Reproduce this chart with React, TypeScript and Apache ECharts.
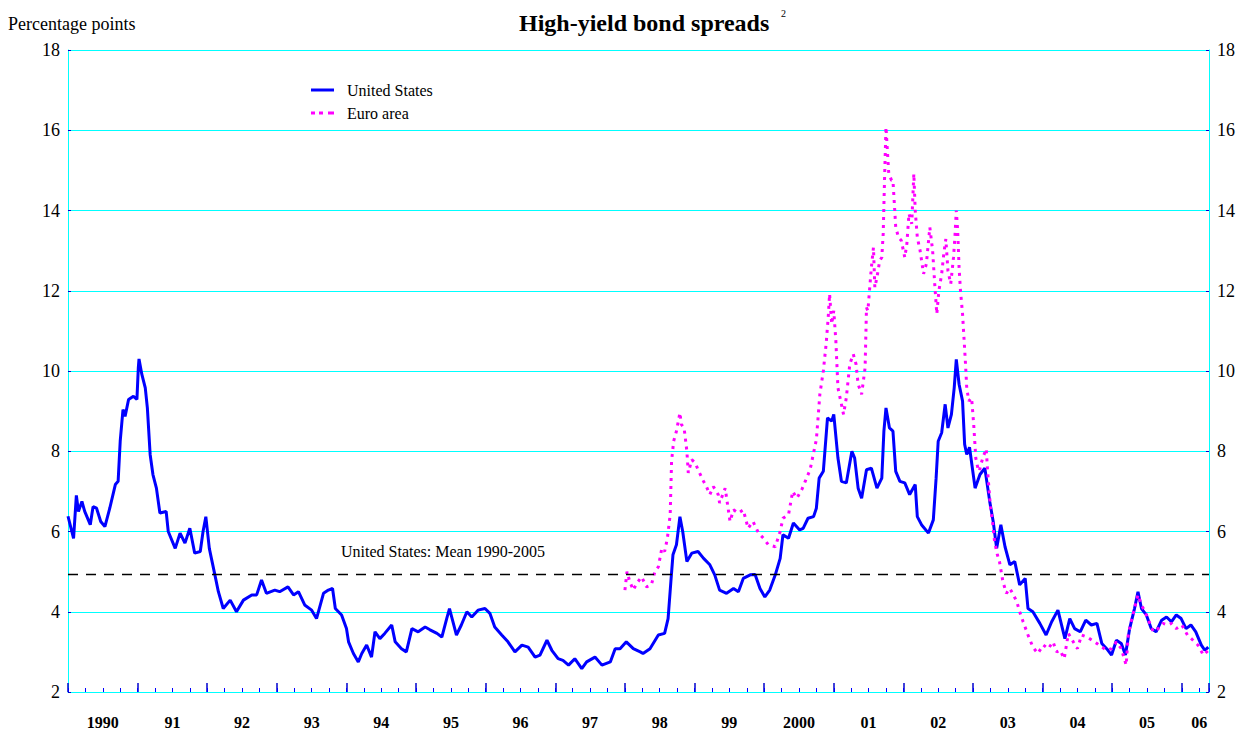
import React, { useEffect, useRef } from "react";
import * as echarts from "echarts";

const FONT = '"Liberation Serif", "Times New Roman", serif';

const X_MIN = 1990;
const X_MAX = 2006.39;
const Y_MIN = 2;
const Y_MAX = 18;
const Y_STEP = 2;
const US_MEAN = 4.93;

const titleText = "High-yield bond spreads";
const footnoteMark = "2";
const unitText = "Percentage points";
const meanLabel = "United States: Mean 1990-2005";
const seriesNames = ["United States", "Euro area"];

const usData: [number, number][] = [
  [1990.0, 6.38], [1990.08, 5.83], [1990.12, 6.9], [1990.15, 6.5], [1990.2, 6.75],
  [1990.24, 6.5], [1990.32, 6.17], [1990.36, 6.62], [1990.41, 6.58], [1990.47, 6.25],
  [1990.53, 6.12], [1990.6, 6.58], [1990.68, 7.17], [1990.72, 7.25], [1990.75, 8.25],
  [1990.79, 9.04], [1990.82, 8.87], [1990.87, 9.29], [1990.94, 9.37], [1990.99, 9.29],
  [1991.01, 10.08], [1991.02, 10.3], [1991.06, 9.92], [1991.11, 9.58], [1991.14, 9.08],
  [1991.18, 7.92], [1991.22, 7.42], [1991.27, 7.08], [1991.32, 6.46], [1991.41, 6.5],
  [1991.44, 6.0], [1991.54, 5.58], [1991.61, 5.96], [1991.68, 5.71], [1991.75, 6.08],
  [1991.82, 5.46], [1991.9, 5.5], [1991.94, 6.0], [1991.98, 6.37], [1992.03, 5.58],
  [1992.06, 5.33], [1992.11, 4.92], [1992.16, 4.5], [1992.23, 4.08], [1992.33, 4.29],
  [1992.42, 4.0], [1992.52, 4.29], [1992.64, 4.42], [1992.71, 4.42], [1992.78, 4.79],
  [1992.85, 4.46], [1992.97, 4.54], [1993.04, 4.5], [1993.16, 4.62], [1993.24, 4.42],
  [1993.31, 4.5], [1993.4, 4.17], [1993.5, 4.04], [1993.57, 3.83], [1993.67, 4.46],
  [1993.74, 4.54], [1993.8, 4.58], [1993.84, 4.08], [1993.93, 3.92], [1994.0, 3.58],
  [1994.03, 3.25], [1994.1, 2.96], [1994.17, 2.75], [1994.22, 2.96], [1994.29, 3.17],
  [1994.36, 2.87], [1994.41, 3.5], [1994.48, 3.33], [1994.55, 3.46], [1994.65, 3.67],
  [1994.7, 3.25], [1994.79, 3.08], [1994.86, 3.0], [1994.94, 3.58], [1995.03, 3.5],
  [1995.13, 3.62], [1995.2, 3.55], [1995.3, 3.46], [1995.37, 3.37], [1995.44, 3.83],
  [1995.48, 4.08], [1995.53, 3.75], [1995.58, 3.42], [1995.65, 3.67], [1995.73, 4.0],
  [1995.8, 3.87], [1995.89, 4.04], [1995.99, 4.08], [1996.06, 3.96], [1996.13, 3.62],
  [1996.23, 3.42], [1996.32, 3.25], [1996.42, 3.0], [1996.52, 3.17], [1996.61, 3.12],
  [1996.71, 2.87], [1996.78, 2.92], [1996.88, 3.29], [1996.95, 3.04], [1997.04, 2.83],
  [1997.11, 2.79], [1997.19, 2.67], [1997.28, 2.83], [1997.38, 2.58], [1997.45, 2.75],
  [1997.57, 2.87], [1997.67, 2.67], [1997.79, 2.75], [1997.86, 3.08], [1997.93, 3.08],
  [1998.02, 3.25], [1998.12, 3.08], [1998.22, 3.0], [1998.26, 2.96], [1998.36, 3.08],
  [1998.48, 3.42], [1998.57, 3.46], [1998.62, 3.83], [1998.66, 4.75], [1998.69, 5.42],
  [1998.74, 5.67], [1998.79, 6.37], [1998.83, 6.0], [1998.89, 5.25], [1998.96, 5.46],
  [1999.05, 5.5], [1999.13, 5.33], [1999.22, 5.17], [1999.29, 4.92], [1999.36, 4.54],
  [1999.46, 4.46], [1999.56, 4.58], [1999.63, 4.5], [1999.7, 4.83], [1999.8, 4.92],
  [1999.87, 4.93], [1999.94, 4.58], [2000.01, 4.37], [2000.08, 4.54], [2000.16, 4.92],
  [2000.23, 5.33], [2000.27, 5.92], [2000.35, 5.83], [2000.42, 6.21], [2000.51, 6.04],
  [2000.56, 6.08], [2000.63, 6.33], [2000.71, 6.37], [2000.75, 6.58], [2000.79, 7.33],
  [2000.85, 7.5], [2000.91, 8.83], [2000.97, 8.75], [2001.0, 8.92], [2001.06, 7.83],
  [2001.11, 7.25], [2001.18, 7.21], [2001.26, 8.0], [2001.3, 7.83], [2001.35, 7.08],
  [2001.4, 6.83], [2001.47, 7.54], [2001.54, 7.58], [2001.62, 7.08], [2001.69, 7.33],
  [2001.72, 8.5], [2001.75, 9.08], [2001.8, 8.58], [2001.85, 8.5], [2001.89, 7.5],
  [2001.95, 7.25], [2002.02, 7.21], [2002.09, 6.92], [2002.17, 7.17], [2002.2, 6.37],
  [2002.26, 6.17], [2002.36, 5.96], [2002.43, 6.29], [2002.47, 7.33], [2002.5, 8.25],
  [2002.55, 8.46], [2002.6, 9.17], [2002.64, 8.58], [2002.69, 8.92], [2002.73, 9.58],
  [2002.76, 10.29], [2002.8, 9.67], [2002.85, 9.25], [2002.88, 8.17], [2002.91, 7.92],
  [2002.95, 8.1], [2003.03, 7.08], [2003.1, 7.42], [2003.17, 7.58], [2003.24, 6.75],
  [2003.29, 6.25], [2003.34, 5.58], [2003.4, 6.17], [2003.46, 5.62], [2003.53, 5.17],
  [2003.6, 5.25], [2003.67, 4.67], [2003.75, 4.83], [2003.79, 4.08], [2003.86, 4.0],
  [2003.96, 3.71], [2004.05, 3.42], [2004.13, 3.75], [2004.22, 4.04], [2004.32, 3.33],
  [2004.39, 3.83], [2004.46, 3.58], [2004.54, 3.5], [2004.62, 3.79], [2004.7, 3.67],
  [2004.78, 3.71], [2004.85, 3.21], [2004.92, 3.08], [2004.99, 2.92], [2005.06, 3.29],
  [2005.13, 3.21], [2005.19, 2.92], [2005.25, 3.58], [2005.32, 4.08], [2005.37, 4.5],
  [2005.42, 4.08], [2005.49, 3.92], [2005.56, 3.58], [2005.63, 3.5], [2005.71, 3.79],
  [2005.78, 3.87], [2005.85, 3.75], [2005.92, 3.92], [2005.99, 3.83], [2006.06, 3.58],
  [2006.13, 3.67], [2006.2, 3.5], [2006.28, 3.17], [2006.33, 3.04], [2006.38, 3.12],
];

const euroData: [number, number][] = [
  [1998.0, 4.54], [1998.03, 5.0], [1998.07, 4.75], [1998.12, 4.54], [1998.17, 4.71],
  [1998.24, 4.87], [1998.31, 4.62], [1998.38, 4.67], [1998.43, 5.0], [1998.48, 5.12],
  [1998.53, 5.58], [1998.57, 5.5], [1998.61, 5.83], [1998.65, 6.42], [1998.67, 7.75],
  [1998.7, 8.25], [1998.74, 8.5], [1998.79, 8.96], [1998.81, 8.67], [1998.85, 8.58],
  [1998.89, 8.0], [1998.91, 7.46], [1998.96, 7.79], [1999.01, 7.71], [1999.05, 7.54],
  [1999.13, 7.25], [1999.17, 7.12], [1999.22, 6.92], [1999.27, 7.12], [1999.34, 6.92],
  [1999.36, 6.71], [1999.44, 7.08], [1999.51, 6.25], [1999.56, 6.54], [1999.63, 6.46],
  [1999.7, 6.54], [1999.77, 6.08], [1999.84, 6.25], [1999.92, 5.96], [1999.99, 5.83],
  [2000.06, 5.67], [2000.16, 5.62], [2000.23, 6.0], [2000.27, 6.33], [2000.35, 6.42],
  [2000.41, 7.0], [2000.47, 6.83], [2000.54, 7.04], [2000.59, 7.25], [2000.66, 7.54],
  [2000.71, 7.96], [2000.75, 8.29], [2000.78, 8.96], [2000.8, 9.42], [2000.85, 10.0],
  [2000.89, 10.67], [2000.92, 11.33], [2000.94, 11.92], [2000.97, 11.17], [2001.0, 11.5],
  [2001.03, 10.75], [2001.06, 9.58], [2001.11, 9.17], [2001.14, 8.92], [2001.18, 9.33],
  [2001.23, 10.17], [2001.28, 10.42], [2001.32, 10.17], [2001.35, 9.67], [2001.4, 9.42],
  [2001.45, 10.08], [2001.47, 11.58], [2001.49, 11.5], [2001.54, 12.58], [2001.57, 13.08],
  [2001.59, 12.08], [2001.62, 12.33], [2001.66, 12.75], [2001.69, 12.83], [2001.71, 13.42],
  [2001.73, 14.83], [2001.75, 16.08], [2001.77, 15.5], [2001.79, 14.92], [2001.83, 14.75],
  [2001.85, 14.75], [2001.87, 14.17], [2001.89, 13.58], [2001.93, 13.33], [2001.97, 13.25],
  [2002.02, 12.83], [2002.05, 13.17], [2002.08, 13.92], [2002.12, 13.67], [2002.15, 14.92],
  [2002.17, 14.0], [2002.2, 13.33], [2002.24, 13.0], [2002.29, 12.42], [2002.33, 12.67],
  [2002.38, 13.58], [2002.42, 13.0], [2002.45, 12.17], [2002.48, 11.42], [2002.51, 12.0],
  [2002.55, 12.42], [2002.58, 12.92], [2002.61, 13.29], [2002.64, 12.5], [2002.68, 12.17],
  [2002.72, 12.83], [2002.74, 13.33], [2002.76, 14.0], [2002.78, 13.5], [2002.8, 12.58],
  [2002.82, 12.0], [2002.85, 11.42], [2002.87, 10.83], [2002.89, 10.25], [2002.91, 9.58],
  [2002.94, 9.25], [2002.98, 9.33], [2003.01, 8.67], [2003.04, 7.83], [2003.07, 7.58],
  [2003.09, 7.5], [2003.12, 7.71], [2003.14, 7.83], [2003.19, 8.06], [2003.21, 7.5],
  [2003.25, 6.62], [2003.28, 6.25], [2003.31, 5.75], [2003.35, 5.42], [2003.38, 5.25],
  [2003.43, 4.75], [2003.48, 4.46], [2003.53, 4.58], [2003.58, 4.42], [2003.63, 4.25],
  [2003.67, 4.0], [2003.72, 3.75], [2003.79, 3.42], [2003.86, 3.12], [2003.93, 2.96],
  [2004.01, 3.17], [2004.08, 3.08], [2004.15, 3.25], [2004.2, 3.0], [2004.25, 3.04],
  [2004.31, 2.83], [2004.37, 3.46], [2004.44, 3.25], [2004.5, 3.08], [2004.56, 3.42],
  [2004.64, 3.37], [2004.71, 3.29], [2004.78, 3.21], [2004.85, 3.12], [2004.92, 3.04],
  [2004.99, 3.08], [2005.06, 3.25], [2005.13, 3.08], [2005.2, 2.67], [2005.23, 3.42],
  [2005.27, 3.75], [2005.32, 4.08], [2005.37, 4.42], [2005.42, 4.17], [2005.47, 4.0],
  [2005.53, 3.75], [2005.59, 3.5], [2005.66, 3.58], [2005.73, 3.71], [2005.8, 3.67],
  [2005.85, 3.71], [2005.92, 3.58], [2006.0, 3.67], [2006.08, 3.42], [2006.16, 3.29],
  [2006.23, 3.17], [2006.31, 2.92], [2006.38, 3.04],
];

// label positions on the year axis: mid-year, plus the partial last year
const LAST_LABEL_POS = 2006.25;

function yearLabel(v: number): string {
  const frac = Math.round((v - Math.floor(v)) * 1000);
  let year: number | null = null;
  if (frac === 500) year = Math.floor(v);
  else if (Math.abs(v - LAST_LABEL_POS) < 1e-6) year = 2006;
  if (year === null) return "";
  if (year === 1990 || year === 2000) return String(year);
  return String(year % 100).padStart(2, "0");
}

const US_COLOR = "#0000FF";
const EURO_COLOR = "#FF00FF";
const DOTTED_ICON = "path://M0,0h4v3h-4z M8,0h4v3h-4z M17,0h6v3h-6z";

export default function App() {
  const ref = useRef<HTMLDivElement>(null);

  useEffect(() => {
    if (!ref.current) return;
    const chart = echarts.init(ref.current, null, { renderer: "svg" });
    const axisCommon = {
      type: "value" as const,
      min: X_MIN,
      max: X_MAX,
      splitLine: { show: false },
    };
    chart.setOption({
      animation: false,
      backgroundColor: "#ffffff",
      title: [
        {
          text: titleText,
          left: 519,
          top: 11,
          padding: 0,
          textStyle: { fontFamily: FONT, fontSize: 24, fontWeight: "bold", color: "#000" },
        },
        {
          text: footnoteMark,
          left: 781,
          top: 8,
          padding: 0,
          textStyle: { fontFamily: FONT, fontSize: 10, fontWeight: "normal", color: "#000" },
        },
        {
          text: unitText,
          left: 8,
          top: 15,
          padding: 0,
          textStyle: { fontFamily: FONT, fontSize: 18, fontWeight: "normal", color: "#000" },
        },
      ],
      legend: {
        data: [
          { name: seriesNames[0], icon: "rect", itemStyle: { color: US_COLOR } },
          { name: seriesNames[1], icon: DOTTED_ICON, itemStyle: { color: EURO_COLOR } },
        ],
        orient: "vertical",
        left: 311,
        top: 82,
        padding: 0,
        itemWidth: 23,
        itemHeight: 3,
        itemGap: 7,
        symbolKeepAspect: false,
        textStyle: { fontFamily: FONT, fontSize: 16, color: "#000", padding: [0, 0, 0, 8] },
      },
      grid: { left: 68, top: 50, width: 1141, height: 642, containLabel: false },
      xAxis: [
        {
          ...axisCommon,
          interval: 1,
          axisLine: { show: true, lineStyle: { color: "#00FFFF", width: 1 } },
          axisTick: { show: true, inside: true, length: 9, lineStyle: { color: "#0000CC", width: 1.5 } },
          axisLabel: { show: false },
        },
        {
          ...axisCommon,
          interval: 0.25,
          position: "bottom",
          axisLine: { show: false },
          axisTick: { show: true, inside: true, length: 4, lineStyle: { color: "#0000FF", width: 1 } },
          axisLabel: {
            show: true,
            formatter: (v: number) => yearLabel(v),
            fontFamily: FONT,
            fontSize: 16,
            fontWeight: "bold",
            color: "#000",
            margin: 22,
          },
        },
      ],
      yAxis: [
        {
          type: "value",
          min: Y_MIN,
          max: Y_MAX,
          interval: Y_STEP,
          position: "left",
          axisLine: { show: true, lineStyle: { color: "#00FFFF", width: 1 } },
          axisTick: { show: true, inside: true, length: 3, lineStyle: { color: "#0000CC" } },
          axisLabel: { fontFamily: FONT, fontSize: 18, color: "#000", margin: 8 },
          splitLine: { show: true, lineStyle: { color: "#00FFFF", width: 1 } },
        },
        {
          type: "value",
          min: Y_MIN,
          max: Y_MAX,
          interval: Y_STEP,
          position: "right",
          axisLine: { show: true, lineStyle: { color: "#00FFFF", width: 1 } },
          axisTick: { show: true, inside: true, length: 3, lineStyle: { color: "#0000CC" } },
          axisLabel: { fontFamily: FONT, fontSize: 18, color: "#000", margin: 8 },
          splitLine: { show: false },
        },
      ],
      series: [
        {
          name: seriesNames[0],
          type: "line",
          xAxisIndex: 0,
          yAxisIndex: 0,
          data: usData,
          symbol: "none",
          showSymbol: false,
          lineStyle: { color: US_COLOR, width: 3 },
          itemStyle: { color: US_COLOR },
          markLine: {
            silent: true,
            symbol: "none",
            lineStyle: { color: "#000", width: 1.3, type: [10, 8] },
            label: {
              show: true,
              position: "insideStartTop",
              formatter: meanLabel,
              fontFamily: FONT,
              fontSize: 16,
              color: "#000",
              padding: [0, 0, 0, 258],
              distance: 15,
            },
            data: [{ yAxis: US_MEAN }],
          },
        },
        {
          name: seriesNames[1],
          type: "line",
          xAxisIndex: 0,
          yAxisIndex: 0,
          data: euroData,
          symbol: "none",
          showSymbol: false,
          lineStyle: { color: EURO_COLOR, width: 3, type: [3, 5] },
          itemStyle: { color: EURO_COLOR },
        },
      ],
    });
    return () => chart.dispose();
  }, []);

  return (
    <div
      ref={ref}
      style={{ position: "fixed", left: 0, top: 0, width: 1253, height: 731, background: "#fff" }}
    />
  );
}
